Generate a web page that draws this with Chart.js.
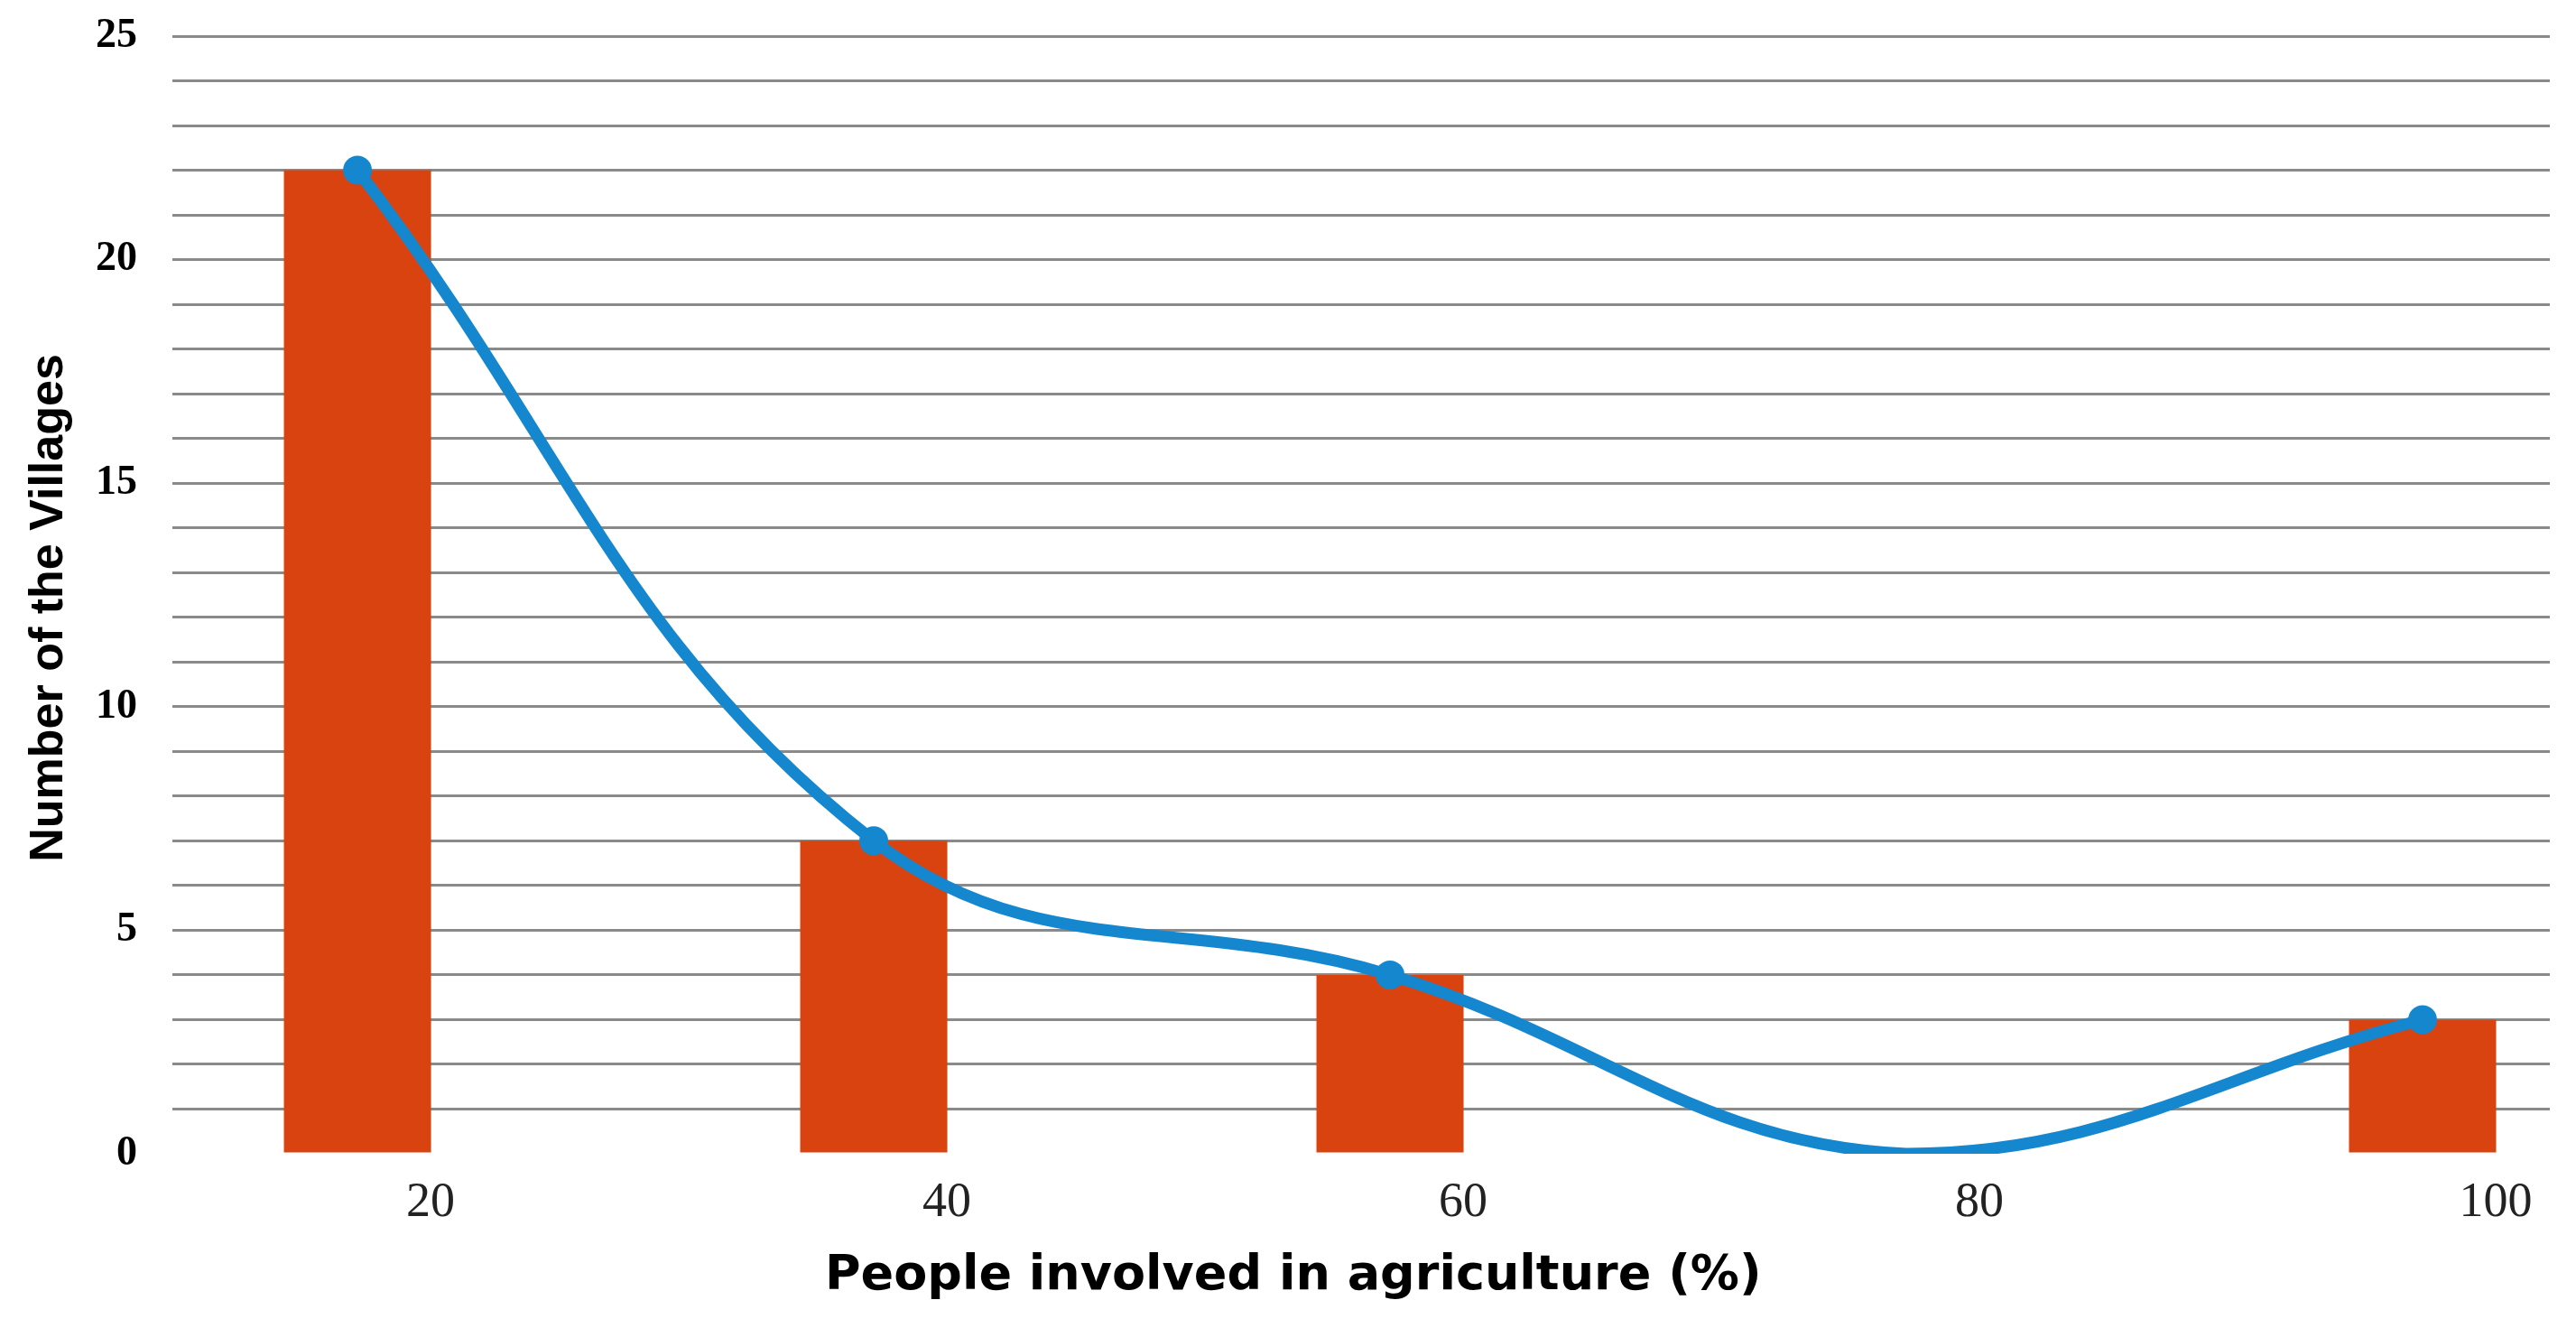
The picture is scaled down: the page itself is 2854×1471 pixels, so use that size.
<!DOCTYPE html>
<html>
<head>
<meta charset="utf-8">
<script src="https://cdn.jsdelivr.net/npm/chart.js@4.4.1/dist/chart.umd.min.js"></script>
<style>
  html, body { margin: 0; padding: 0; background: #fff; }
  #wrap { width: 2854px; height: 1471px; }
</style>
</head>
<body>
<div id="wrap"><canvas id="villageChart"></canvas></div>
<script>
// values
const agriShare = [20, 40, 60, 80, 100];
const villageCount = [22, 7, 4, 0, 3];
const yLabelStep = 5;

const barColor = '#d8430f';
const lineColor = '#1587cf';
const gridColor = '#8a8a8a';

function toPoints() {
    return agriShare.map((x, i) => ({ x: x, y: villageCount[i] }));
}

const ctx = document.getElementById('villageChart');
new Chart(ctx, {
    type: 'bar',
    data: {
        datasets: [{
            type: 'line',
            data: toPoints(),
            order: 0,
            borderColor: lineColor,
            backgroundColor: lineColor,
            borderWidth: 13,
            tension: 0.4,
            // no marker where the curve touches zero
            pointRadius: c => (c.raw && c.raw.y === 0) ? 0 : 16,
            pointBorderWidth: 0,
            pointBackgroundColor: lineColor
        }, {
            data: toPoints(),
            order: 1,
            backgroundColor: barColor,
            borderWidth: 0,
            barPercentage: 0.285,
            categoryPercentage: 1
        }]
    },
    options: {
        responsive: true,
        maintainAspectRatio: false,
        animation: false,
        devicePixelRatio: 1,
        layout: { padding: { top: 40, right: 29, bottom: 0, left: 0 } },
        plugins: {
            legend: { display: false },
            tooltip: { enabled: false }
        },
        scales: {
            x: {
                type: 'linear',
                min: 12.83,
                max: 104.93,
                offset: false,
                afterBuildTicks: s => { s.ticks = agriShare.map(v => ({ value: v })); },
                afterFit: s => { s.height = 193; },
                grid: { display: false, drawTicks: false },
                border: { display: false },
                ticks: {
                    autoSkip: false,
                    maxRotation: 0,
                    labelOffset: 81,
                    padding: 22,
                    color: '#222',
                    font: { family: 'Liberation Serif', size: 54 }
                },
                title: {
                    display: true,
                    text: 'People involved in agriculture (%)        ',
                    color: '#000',
                    font: { family: 'DejaVu Sans', size: 54, weight: 'bold' },
                    padding: { top: 0, bottom: 25 }
                }
            },
            y: {
                min: 0,
                max: 25,
                afterFit: s => {
                    s.width = 191;
                    // tick padding would otherwise push the plot area down
                    s.paddingTop = 0;
                    s.paddingBottom = 0;
                },
                ticks: {
                    stepSize: 1,
                    autoSkip: false,
                    padding: 39,
                    color: '#000',
                    font: { family: 'Liberation Serif', size: 46, weight: 'bold' },
                    callback: v => v % yLabelStep === 0 ? v : ''
                },
                grid: {
                    drawTicks: false,
                    lineWidth: 3,
                    color: c => c.tick && c.tick.value === 0 ? 'rgba(0,0,0,0)' : gridColor
                },
                border: { display: false },
                title: {
                    display: true,
                    text: 'Number of the Villages  ',
                    color: '#000',
                    font: { family: 'Liberation Sans', size: 52, weight: 'bold' },
                    padding: { top: 23, bottom: 0 }
                }
            }
        }
    }
});
</script>
</body>
</html>
